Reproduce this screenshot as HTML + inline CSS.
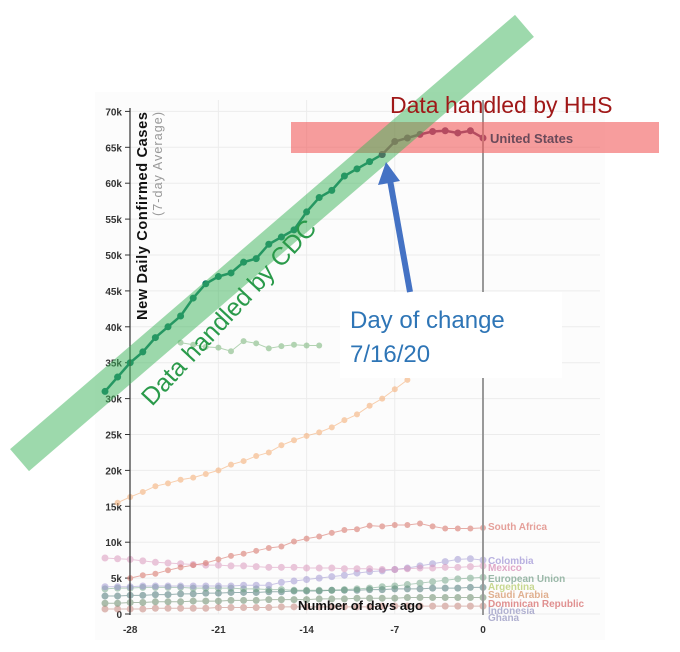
<!DOCTYPE html>
<html><head><meta charset="utf-8"><style>
body{margin:0;background:#fff;}
svg{display:block;font-family:"Liberation Sans",sans-serif;}
</style></head><body>
<svg id="chart" width="680" height="652" viewBox="0 0 680 652">
<rect x="95" y="92" width="510" height="548" fill="#fcfcfc"/>
<g id="grid"></g>
<g id="axes"></g>
<g id="series"></g>
<g id="labels"></g>
</svg>
<script>
const days=[];for(let d=-30;d<=0;d++)days.push(d);
const yTicks=[0,5,10,15,20,25,30,35,40,45,50,55,60,65,70];
const xTicks=[-28,-21,-14,-7,0];
const usVals=[31,33,35,36.5,38.5,40,41.5,44,46,47,47.5,49,49.5,51.5,52.5,53.5,56,58,59,61,62,63,64,65.8,66.3,66.8,67.2,67.3,67,67.3,66.3];
const orangeVals=[null,15.5,16.3,17,17.8,18.2,18.7,19,19.5,20,20.8,21.3,22,22.5,23.5,24.2,24.8,25.3,26,27,27.8,29,30,31.3,32.6,null,null,null,null,null,null];
const greenVals=[null,null,null,null,null,null,37.8,37.5,37.2,37.1,36.6,38,37.7,37,37.3,37.5,37.4,37.4,null,null,null,null,null,null,null,null,null,null,null,null,null];
const saVals=[null,null,5,5.4,5.6,6.1,6.5,6.8,7.1,7.6,8.1,8.4,8.8,9.2,9.4,10.1,10.5,10.8,11.3,11.7,11.8,12.3,12.2,12.4,12.4,12.6,12.2,11.9,11.9,11.9,12];
const mexVals=[7.8,7.7,7.6,7.4,7.2,7.1,7,6.9,6.8,6.8,6.7,6.7,6.6,6.5,6.5,6.5,6.4,6.4,6.4,6.3,6.3,6.3,6.2,6.2,6.3,6.4,6.4,6.5,6.5,6.6,6.7];
const colVals=[3.8,3.8,3.8,3.9,3.9,3.9,3.9,3.9,3.9,3.9,3.9,4,4,4,4.4,4.6,4.8,5,5.2,5.4,5.7,5.9,6,6.2,6.4,6.7,7,7.3,7.6,7.7,7.5];
const euVals=[3.5,3.6,3.6,3.7,3.7,3.7,3.7,3.6,3.6,3.6,3.6,3.5,3.5,3.4,3.4,3.3,3.3,3.3,3.3,3.4,3.5,3.6,3.8,3.9,4.1,4.3,4.5,4.7,4.9,5,5.1];
const argVals=[2.5,2.5,2.6,2.6,2.7,2.7,2.8,2.8,2.9,2.9,3,3,3,3.1,3.1,3.2,3.2,3.2,3.3,3.3,3.3,3.4,3.4,3.5,3.5,3.5,3.6,3.6,3.6,3.7,3.7];
const lowVals=[1.5,1.5,1.6,1.6,1.7,1.7,1.7,1.8,1.8,1.8,1.9,1.9,1.9,2,2,2,2,2.1,2.1,2.1,2.2,2.2,2.2,2.2,2.3,2.3,2.3,2.3,2.3,2.3,2.3];
const ghVals=[0.7,0.7,0.7,0.7,0.8,0.8,0.8,0.8,0.8,0.9,0.9,0.9,0.9,0.9,1,1,1,1,1,1,1,1,1.1,1.1,1.1,1.1,1.1,1.1,1.1,1.1,1.1];
const NS="http://www.w3.org/2000/svg";
function X(d){return 483+d*12.6;}
function Y(v){return 614-v*7.18;}
function mk(tag,attrs,parent,txt){const e=document.createElementNS(NS,tag);for(const k in attrs)e.setAttribute(k,attrs[k]);if(txt!==undefined)e.textContent=txt;(typeof parent==='string'?document.getElementById(parent):parent).appendChild(e);return e;}
yTicks.forEach(v=>{
  const g=mk('line',{x1:130,x2:600,y1:Y(v),y2:Y(v),stroke:'#ececec','stroke-width':1},'grid');
  
  
  const t=mk('line',{x1:125,x2:130,y1:Y(v),y2:Y(v),stroke:'#333'},'axes');
  
  
  const l=mk('text',{x:122,y:Y(v)+4,'text-anchor':'end','font-size':10,'font-weight':'bold',fill:'#333'},'axes',v===0?'0':v+'k');
  
  
});
xTicks.forEach(d=>{
  if(d!==0&&d!==-28){const g=mk('line',{x1:X(d),x2:X(d),y1:100,y2:614,stroke:'#ececec'},'grid');
  
  }
  const l=mk('text',{x:X(d),y:633,'text-anchor':'middle','font-size':10,'font-weight':'bold',fill:'#333'},'axes',String(d));
  
  
});
function series(vals,color,op,r,w,name){
  let pts=[];const g=mk('g',{opacity:op},'series');
  
  
  vals.forEach((v,i)=>{if(v!=null)pts.push([X(days[i]),Y(v)]);});
  mk('polyline',{points:pts.map(p=>p.join(',')).join(' '),fill:'none',stroke:color,'stroke-width':w},g);
  pts.forEach(p=>mk('circle',{cx:p[0],cy:p[1],r:r,fill:color},g));
}
series(ghVals,'#c07a70',0.5,3.5,1,'ghana-series');
series(lowVals,'#6a8a6a',0.55,3.5,1,'low-series');
series(argVals,'#3a6a6a',0.5,3.5,1,'argentina-series');
series(euVals,'#6aa080',0.5,3.5,1,'eu-series');
series(colVals,'#9a90d0',0.5,3.5,1,'colombia-series');
series(mexVals,'#d890b8',0.5,3.5,1,'mexico-series');
series(saVals,'#d87a70',0.6,3,1,'south-africa-series');
series(orangeVals,'#f5b07a',0.6,3,1,'orange-series');
series(greenVals,'#80b880',0.6,3,1,'green-series');
const usA=usVals.slice(0,23),usB=usVals.slice(22);
series(usA.concat(Array(8).fill(null)),'#0e7a6a',1,3.5,2.5,'us-series-cdc');
series(Array(22).fill(null).concat(usB),'#5a3466',1,3.5,2.5,'us-series-hhs');
</script>
<script>
const s=document.getElementById('chart');
s.insertAdjacentHTML('beforeend',`
<line x1="130" y1="108" x2="130" y2="615" stroke="#333" stroke-width="1.2"/>
<line x1="483" y1="100" x2="483" y2="615" stroke="#999" stroke-width="2"/>
<text transform="translate(147,320) rotate(-90)" font-size="14.5" font-weight="bold" fill="#111" textLength="208">New Daily Confirmed Cases</text>
<text transform="translate(162,216) rotate(-90)" font-size="12.5" fill="#999" textLength="104">(7-day Average)</text>
<text x="298" y="610" font-size="13" font-weight="bold" fill="#111">Number of days ago</text>
<g font-size="10" font-weight="bold">
<text x="488" y="530" fill="#e5a09a">South Africa</text>
<text x="488" y="564" fill="#b8b0e0">Colombia</text>
<text x="488" y="571" fill="#e0a8c8">Mexico</text>
<text x="488" y="582" fill="#9ab8a8">European Union</text>
<text x="488" y="590" fill="#c8d890">Argentina</text>
<text x="488" y="598" fill="#e0b090">Saudi Arabia</text>
<text x="488" y="607" fill="#e09090">Dominican Republic</text>
<text x="488" y="614" fill="#b0b0d0">Indonesia</text>
<text x="488" y="621" fill="#b0b0d0">Ghana</text>
</g>
<rect x="291" y="122" width="368" height="31" fill="#f25c5c" opacity="0.6"/>
<text x="490" y="143" font-size="13" font-weight="bold" fill="#6a4a5a">United States</text>
<rect x="-333" y="-14.5" width="666" height="29" fill="#3cb35a" opacity="0.5" transform="translate(272,243) rotate(-40.7)"/>
<text transform="translate(152,407) rotate(-47)" font-size="25" fill="#2a9a4a">Data handled by CDC</text>
<text x="390" y="113" font-size="23" fill="#a01818">Data handled by HHS</text>
<rect x="340" y="292" width="222" height="86" fill="#fff"/>
<text x="350" y="328" font-size="24" fill="#2e75b6">Day of change</text>
<text x="350" y="362" font-size="24" fill="#2e75b6">7/16/20</text>
<line x1="410" y1="292" x2="390" y2="180" stroke="#4472c4" stroke-width="6"/>
<polygon points="386,162 378,185 400,181" fill="#4472c4"/>
`);
</script>
</body></html>
